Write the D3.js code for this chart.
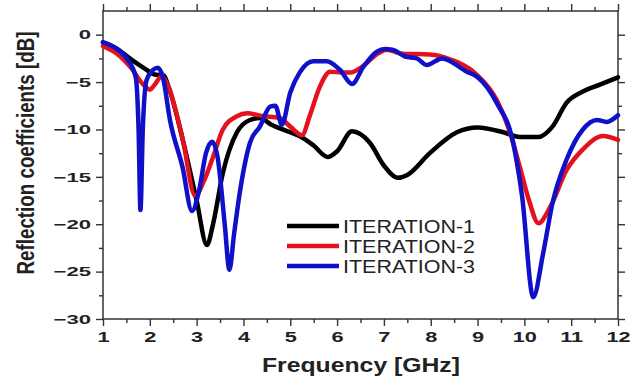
<!DOCTYPE html>
<html>
<head>
<meta charset="utf-8">
<script src="https://cdn.jsdelivr.net/npm/d3@7"></script>
<style>
  body { margin: 0; background: #fff; }
  svg { display: block; font-family: Arial, "Liberation Sans", sans-serif; }
</style>
</head>
<body>
<svg id="chart" width="643" height="381"></svg>
<script>
// frequency [GHz] / reflection [dB]
var freq1 = [1.0, 1.3, 1.6, 1.9, 2.1, 2.3, 2.4, 2.7, 3.0, 3.22, 3.35, 3.56, 3.86, 4.14, 4.35, 4.6, 5.0, 5.27, 5.5, 5.8, 6.0, 6.32, 6.5, 6.7, 7.0, 7.3, 7.5, 7.98, 8.56, 9.0, 9.55, 9.9, 10.3, 10.6, 10.9, 11.25, 11.6, 12.0];
var iter1 = [-0.8, -1.5, -2.6, -3.6, -4.2, -4.3, -5.5, -11, -17.5, -22.2, -20, -14.6, -10.3, -9.0, -8.8, -9.5, -10.3, -10.9, -11.7, -12.9, -12.3, -10.2, -10.5, -11.4, -13.8, -15.1, -14.8, -12.5, -10.3, -9.8, -10.3, -10.8, -10.8, -9.7, -7.2, -6.0, -5.3, -4.5];

var freq2 = [1.0, 1.3, 1.6, 1.85, 2.0, 2.1, 2.25, 2.4, 2.7, 2.97, 3.15, 3.35, 3.56, 3.86, 4.08, 4.42, 4.78, 5.0, 5.25, 5.42, 5.63, 5.85, 6.1, 6.27, 6.5, 6.9, 7.05, 7.4, 7.98, 8.41, 8.98, 9.41, 9.7, 9.9, 10.1, 10.3, 10.55, 10.9, 11.25, 11.68, 12.0];
var iter2 = [-1.2, -2.0, -3.5, -5.2, -5.8, -5.3, -4.4, -5.5, -11, -17, -15.5, -12.9, -10, -8.6, -8.3, -8.6, -8.8, -9.7, -10.6, -8.5, -5.5, -3.9, -4.0, -4.0, -3.5, -1.9, -1.6, -2.0, -2.1, -2.6, -4.2, -6.9, -10.4, -13.9, -17.5, -19.9, -18.2, -14.3, -12.1, -10.7, -11.1];

var freq3 = [1.0, 1.3, 1.55, 1.7, 1.76, 1.8, 1.85, 1.93, 2.05, 2.17, 2.28, 2.43, 2.7, 2.9, 3.05, 3.2, 3.33, 3.45, 3.6, 3.7, 3.8, 3.93, 4.14, 4.35, 4.57, 4.68, 4.82, 5.0, 5.2, 5.49, 5.78, 6.06, 6.32, 6.56, 6.85, 7.02, 7.2, 7.45, 7.7, 7.92, 8.24, 8.77, 8.98, 9.41, 9.76, 9.95, 10.19, 10.4, 10.6, 10.9, 11.25, 11.55, 11.76, 12.0];
var iter3 = [-0.8, -1.5, -2.8, -4.5, -10, -18.5, -10, -4.8, -3.8, -3.5, -4.5, -9.0, -14, -18.6, -16.5, -12.5, -11.3, -13, -20, -24.8, -21, -16.4, -11.4, -9.7, -7.6, -7.5, -9.5, -6.1, -4.0, -2.8, -2.8, -3.7, -5.2, -3.4, -1.8, -1.5, -1.6, -2.3, -2.5, -3.2, -2.5, -3.9, -4.4, -7.2, -11.4, -17, -27.7, -23.1, -17.8, -13.2, -10.0, -9.0, -9.2, -8.5];

var seriesNames = ["ITERATION-1", "ITERATION-2", "ITERATION-3"];
var seriesColors = ["#000000", "#e3121c", "#1010c8"];
var xTicks = [1, 2, 3, 4, 5, 6, 7, 8, 9, 10, 11, 12];
var yTicks = [0, -5, -10, -15, -20, -25, -30];

var svg = d3.select("#chart");
var mLeft = 103, mRight = 618, mTop = 11, mBottom = 319;

var x = d3.scaleLinear().domain([1, 12]).range([mLeft, mRight]);
var y = d3.scaleLinear().domain([-30, 2.5]).range([mBottom, mTop]);

var series = [
  { name: seriesNames[0], color: seriesColors[0], pts: freq1.map(function(f, i) { return [f, iter1[i]]; }) },
  { name: seriesNames[1], color: seriesColors[1], pts: freq2.map(function(f, i) { return [f, iter2[i]]; }) },
  { name: seriesNames[2], color: seriesColors[2], pts: freq3.map(function(f, i) { return [f, iter3[i]]; }) }
];

// minor ticks (no labels)
var xMinor = d3.range(1.5, 12, 1);
var yMinor = d3.range(-27.5, 2.5, 5);

function minorAxis(axis, vals) {
  return axis.tickValues(vals).tickSize(4).tickFormat("");
}

var axisColor = "#333";

svg.append("g").attr("transform", "translate(0," + mBottom + ")")
  .call(minorAxis(d3.axisBottom(x), xMinor));
svg.append("g").attr("transform", "translate(0," + mTop + ")")
  .call(minorAxis(d3.axisTop(x), xMinor));
svg.append("g").attr("transform", "translate(" + mLeft + ",0)")
  .call(minorAxis(d3.axisLeft(y), yMinor));
svg.append("g").attr("transform", "translate(" + mRight + ",0)")
  .call(minorAxis(d3.axisRight(y), yMinor));

var gx = svg.append("g").attr("transform", "translate(0," + mBottom + ")")
  .call(d3.axisBottom(x).tickValues(xTicks).tickSize(7).tickPadding(5).tickFormat(d3.format("d")));
svg.append("g").attr("transform", "translate(0," + mTop + ")")
  .call(d3.axisTop(x).tickValues(xTicks).tickSize(7).tickFormat(""));
var gy = svg.append("g").attr("transform", "translate(" + mLeft + ",0)")
  .call(d3.axisLeft(y).tickValues(yTicks).tickSize(7).tickFormat(d3.format("d")));
svg.append("g").attr("transform", "translate(" + mRight + ",0)")
  .call(d3.axisRight(y).tickValues(yTicks).tickSize(7).tickFormat(""));

svg.selectAll(".domain").remove();
svg.selectAll(".tick line").attr("stroke", axisColor).attr("stroke-width", 1.4);

gx.selectAll("text")
  .attr("font-size", 15).attr("font-weight", "bold").attr("fill", "#222")
  .attr("font-family", "Arial, 'Liberation Sans', sans-serif")
  .attr("transform", "scale(1.45,1)");
gy.selectAll("text")
  .attr("font-size", 13).attr("font-weight", "bold").attr("fill", "#222")
  .attr("font-family", "Arial, 'Liberation Sans', sans-serif")
  .attr("x", -12 / 1.7)
  .attr("transform", "scale(1.7,1)");

// frame
svg.append("rect")
  .attr("x", mLeft).attr("y", mTop)
  .attr("width", mRight - mLeft).attr("height", mBottom - mTop)
  .attr("fill", "none").attr("stroke", axisColor).attr("stroke-width", 1.5);

// curves
var line = d3.line()
  .x(function(d) { return x(d[0]); })
  .y(function(d) { return y(d[1]); })
  .curve(d3.curveMonotoneX);

svg.append("g").selectAll("path")
  .data(series)
  .enter().append("path")
  .attr("d", function(d) { return line(d.pts); })
  .attr("fill", "none")
  .attr("stroke", function(d) { return d.color; })
  .attr("stroke-width", 4.5)
  .attr("stroke-linejoin", "round")
  .attr("stroke-linecap", "round");

// legend
var legend = svg.append("g");
var legY = [226, 246, 266];
series.forEach(function(s, i) {
  legend.append("line")
    .attr("x1", 287).attr("x2", 339)
    .attr("y1", legY[i]).attr("y2", legY[i])
    .attr("stroke", s.color).attr("stroke-width", 4.5);
  legend.append("text")
    .attr("x", 343).attr("y", legY[i] + 7)
    .attr("font-size", 18)
    .attr("fill", "#222")
    .attr("textLength", 132)
    .attr("lengthAdjust", "spacingAndGlyphs")
    .text(s.name);
});

// axis titles
svg.append("text")
  .attr("x", 262).attr("y", 372)
  .attr("font-size", 20).attr("font-weight", "bold").attr("fill", "#222")
  .attr("textLength", 198)
  .attr("lengthAdjust", "spacingAndGlyphs")
  .text("Frequency [GHz]");

svg.append("text")
  .attr("transform", "translate(34,153) scale(1.35,1) rotate(-90)")
  .attr("text-anchor", "middle")
  .attr("font-size", 18).attr("font-weight", "bold").attr("fill", "#222")
  .attr("textLength", 243)
  .attr("lengthAdjust", "spacingAndGlyphs")
  .text("Reflection coefficients [dB]");
</script>
</body>
</html>
